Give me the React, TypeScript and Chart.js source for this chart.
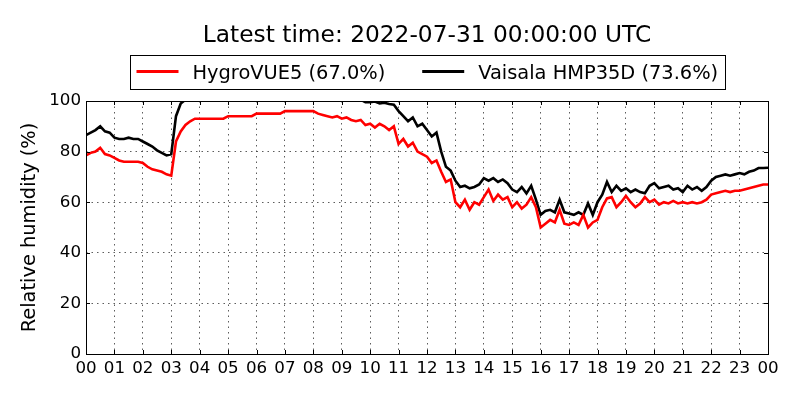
import React, { useRef, useEffect } from 'react';
import Chart from 'chart.js/auto';

// 10-minute samples, 00:00 to 24:00
const hourLabels = [
  '00', '01', '02', '03', '04', '05', '06', '07', '08', '09', '10', '11', '12',
  '13', '14', '15', '16', '17', '18', '19', '20', '21', '22', '23', '00',
];

const hygroLabel = 'HygroVUE5 (67.0%)';
const vaisalaLabel = 'Vaisala HMP35D (73.6%)';

const hygroVue5 = [
  78.5, 79.5, 80, 81.5, 79, 78.5,
  77.5, 76.5, 76, 76, 76, 76,
  75.5, 74, 73, 72.5, 72, 71,
  70.5, 84, 88, 90.5, 92, 93,
  93, 93, 93, 93, 93, 93,
  94, 94, 94, 94, 94, 94,
  95, 95, 95, 95, 95, 95,
  96, 96, 96, 96, 96, 96,
  96, 95, 94.5, 94, 93.5, 94,
  93, 93.5, 92.5, 92, 92.5, 90.5,
  91, 89.5, 91, 90, 88.5, 90,
  83, 85, 82, 83.5, 80, 79,
  78, 75.5, 76.5, 72, 68, 69,
  60, 58, 61, 57, 60, 59,
  62, 65, 60.5, 63, 61, 62,
  58, 60, 57.5, 59, 62, 58,
  50, 51.5, 53, 52, 57, 51.5,
  51, 52, 51, 55, 50, 52,
  53, 58, 61.5, 62, 58, 60,
  62.5, 60, 58, 59.5, 62, 60,
  61, 59, 60, 59.5, 60.5, 59.5,
  60, 59.5, 60, 59.5, 60, 61,
  63, 63.5, 64, 64.5, 64, 64.5,
  64.5, 65, 65.5, 66, 66.5, 67,
  67,
];

const vaisalaHmp35d = [
  86.5, 87.5, 88.5, 90, 88, 87.5,
  85.5, 85, 85, 85.5, 85, 85,
  84, 83, 82, 80.5, 79.5, 78.5,
  79, 94, 99, 100.5, 101.5, 102,
  102, 102.5, 102.5, 102.5, 102.5, 102.5,
  102.5, 102.5, 102.5, 102.5, 102.5, 102.5,
  102.5, 102.5, 102.5, 102.5, 102.5, 102.5,
  102.5, 102.5, 102.5, 102.5, 102.5, 102.5,
  102.5, 102.5, 102.5, 102.5, 102.5, 102.5,
  102.5, 102, 101.5, 101, 100.5, 99.5,
  99.5, 99.8, 99, 99.3, 98.8, 98.5,
  96, 94, 92, 93.5, 90, 91,
  88.5, 86, 87.5, 80, 74, 72.5,
  68.5, 66, 66.5, 65.5, 66, 67,
  69.5, 68.5, 69.5, 68, 69, 67.5,
  65, 64, 66, 63.5, 66.5, 61,
  55, 56.5, 57, 56, 61, 56,
  55.5, 55, 56, 55, 59.5, 55,
  60, 63, 68, 64, 66.5, 64.5,
  65.5, 64, 65, 64, 63.5, 66.5,
  67.5, 65.5, 66, 66.5, 65, 65.5,
  64, 66.5, 65, 66, 64.5, 66,
  68.5, 70, 70.5, 71, 70.5, 71,
  71.5, 71, 72, 72.5, 73.5, 73.5,
  73.6,
];

const titleText = 'Latest time: 2022-07-31 00:00:00 UTC';
const FONT = '"DejaVu Sans", sans-serif';
const TICK_SIZE = 16.7;
const LABEL_SIZE = 19.4;
const TITLE_SIZE = 23.3;

const toPoints = (values: number[]) => values.map((y, i) => ({ x: i / 6, y }));

// matplotlib-like frame, inward ticks, title and boxed legend
const decorations = {
  id: 'decorations',
  afterDraw(chart: any) {
    const { ctx, chartArea } = chart;
    const { left, right, top, bottom } = chartArea;
    ctx.save();
    ctx.strokeStyle = '#000';
    ctx.lineWidth = 1;
    ctx.setLineDash([]);
    ctx.strokeRect(Math.round(left) + 0.5, Math.round(top) + 0.5, Math.round(right - left), Math.round(bottom - top));

    const xs = chart.scales.x;
    const ys = chart.scales.y;
    ctx.beginPath();
    hourLabels.forEach((_, h) => {
      const px = Math.round(xs.getPixelForValue(h)) + 0.5;
      ctx.moveTo(px, bottom); ctx.lineTo(px, bottom - 4);
      ctx.moveTo(px, top); ctx.lineTo(px, top + 4);
    });
    for (let v = 0; v <= 100; v += 20) {
      const py = Math.round(ys.getPixelForValue(v)) + 0.5;
      ctx.moveTo(left, py); ctx.lineTo(left + 4, py);
      ctx.moveTo(right, py); ctx.lineTo(right - 4, py);
    }
    ctx.stroke();

    const cx = (left + right) / 2;
    ctx.fillStyle = '#000';
    ctx.font = `${TITLE_SIZE}px ${FONT}`;
    ctx.textAlign = 'center';
    ctx.textBaseline = 'alphabetic';
    ctx.fillText(titleText, cx, 42);

    ctx.font = `${LABEL_SIZE}px ${FONT}`;
    ctx.textAlign = 'left';
    const handleLen = 42;
    const handleGap = 14;
    const colGap = 37;
    const pad = 6.5;
    const items = chart.data.datasets.map((ds: any) => ({
      text: ds.label,
      color: ds.borderColor,
      w: ctx.measureText(ds.label).width,
    }));
    const total =
      pad * 2 +
      items.reduce((s: number, it: any) => s + handleLen + handleGap + it.w, 0) +
      colGap * (items.length - 1);
    let x = Math.round(cx - total / 2);
    const boxTop = 55;
    const boxBottom = 89;
    ctx.strokeStyle = '#000';
    ctx.lineWidth = 1;
    ctx.strokeRect(x + 0.5, boxTop + 0.5, Math.round(total), boxBottom - boxTop);
    x += pad;
    items.forEach((it: any) => {
      ctx.strokeStyle = it.color;
      ctx.lineWidth = 2.8;
      ctx.beginPath();
      ctx.moveTo(x, 71.5);
      ctx.lineTo(x + handleLen, 71.5);
      ctx.stroke();
      x += handleLen + handleGap;
      ctx.fillStyle = '#000';
      ctx.fillText(it.text, x, 78.5);
      x += it.w + colGap;
    });
    ctx.restore();
  },
};

const App: React.FC = () => {
  const canvasRef = useRef<HTMLCanvasElement | null>(null);

  useEffect(() => {
    if (!canvasRef.current) return;

    const chart = new Chart(canvasRef.current, {
      type: 'line',
      data: {
        datasets: [
          {
            label: hygroLabel,
            data: toPoints(hygroVue5),
            borderColor: '#ff0000',
            borderWidth: 2.6,
            pointRadius: 0,
            tension: 0,
            clip: 0,
          },
          {
            label: vaisalaLabel,
            data: toPoints(vaisalaHmp35d),
            borderColor: '#000000',
            borderWidth: 2.6,
            pointRadius: 0,
            tension: 0,
            clip: 0,
          },
        ],
      },
      options: {
        animation: false,
        responsive: false,
        devicePixelRatio: 1,
        layout: { padding: { top: 101, left: 0, right: 32, bottom: 0 } },
        scales: {
          x: {
            type: 'linear',
            min: 0,
            max: 24,
            afterFit: (scale: any) => {
              scale.height = 46;
            },
            border: { display: false, dash: [1.5, 4] },
            grid: { color: '#333', lineWidth: 0.8, drawTicks: false },
            ticks: {
              stepSize: 1,
              autoSkip: false,
              maxRotation: 0,
              padding: 5,
              color: '#000',
              font: { family: FONT, size: TICK_SIZE },
              callback: (value: any) => hourLabels[Math.round(Number(value))],
            },
          },
          y: {
            min: 0,
            max: 100,
            afterFit: (scale: any) => {
              scale.width = 86;
            },
            border: { display: false, dash: [1.5, 4] },
            grid: { color: '#333', lineWidth: 0.8, drawTicks: false },
            ticks: {
              stepSize: 20,
              padding: 5,
              color: '#000',
              font: { family: FONT, size: TICK_SIZE },
            },
            title: {
              display: true,
              text: 'Relative humidity (%)',
              color: '#000',
              font: { family: FONT, size: LABEL_SIZE },
              padding: { top: 18, bottom: 0 },
            },
          },
        },
        plugins: {
          legend: { display: false },
          title: { display: false },
          tooltip: { enabled: false },
        },
      },
      plugins: [decorations],
    });

    return () => {
      chart.destroy();
    };
  }, []);

  return (
    <div style={{ position: 'fixed', left: 0, top: 0, width: 800, height: 400, background: '#fff' }}>
      <canvas ref={canvasRef} width={800} height={400}></canvas>
    </div>
  );
};

export default App;
